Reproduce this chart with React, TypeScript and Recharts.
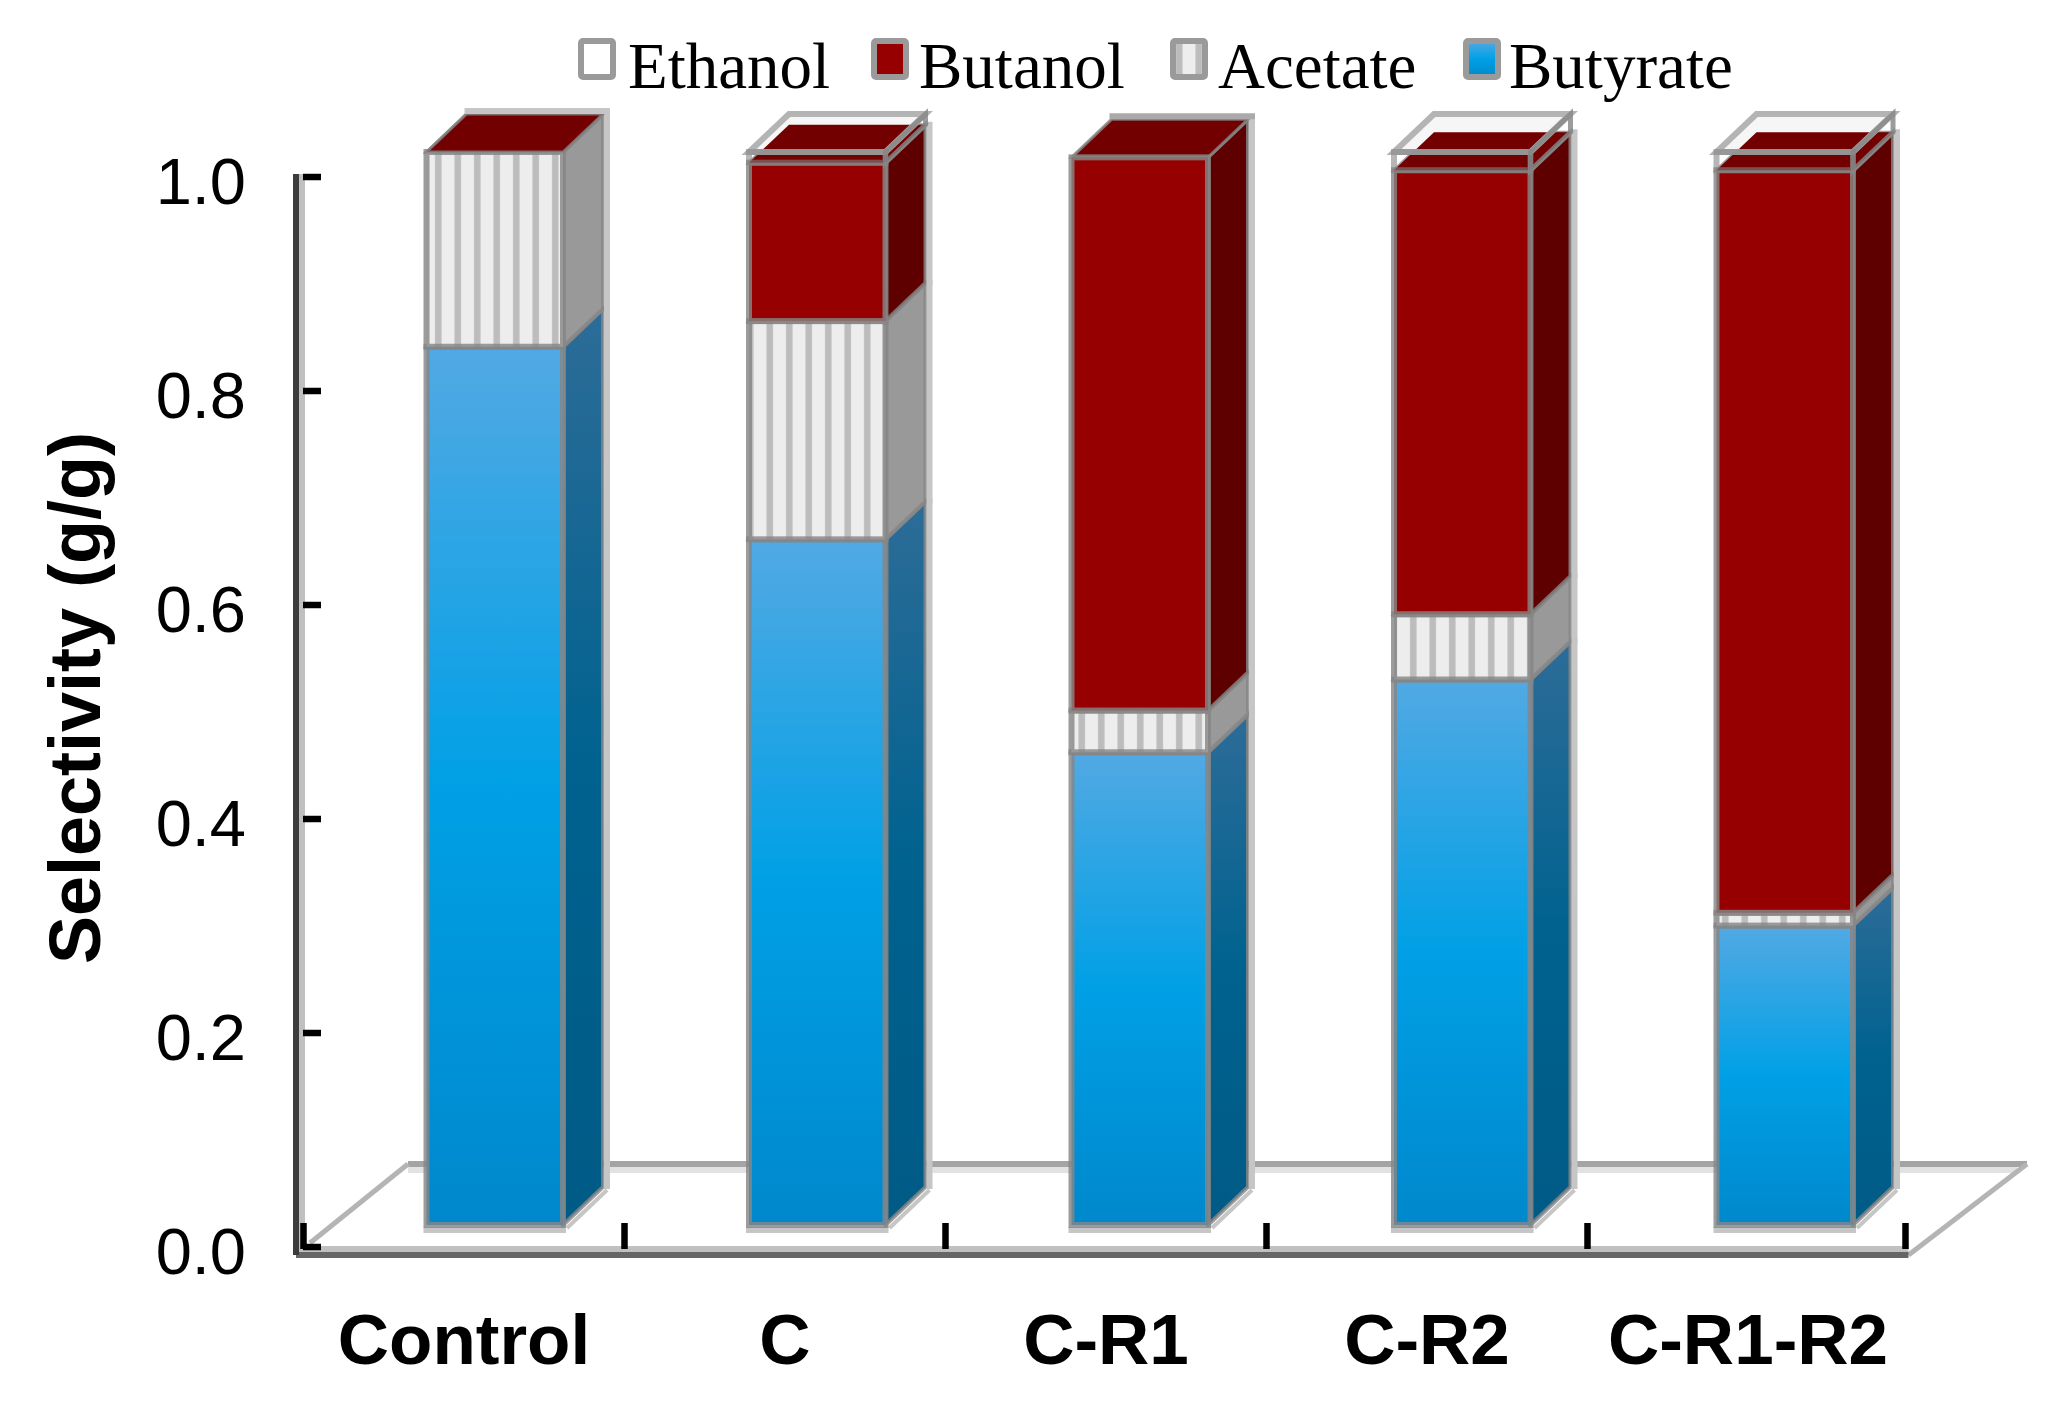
import { BarChart, Bar, XAxis, YAxis, Legend } from "recharts";

const categories = ["Control", "C", "C-R1", "C-R2", "C-R1-R2"];
const butyrate = [0.818, 0.638, 0.439, 0.507, 0.277];
const acetate = [0.182, 0.204, 0.039, 0.061, 0.012];
const butanol = [0, 0.148, 0.517, 0.415, 0.694];
const ethanol = [0, 0.01, 0, 0.017, 0.017];
const yTicks = [0, 0.2, 0.4, 0.6, 0.8, 1];
const legendOrder = ["Ethanol", "Butanol", "Acetate", "Butyrate"];

const data = categories.map((name, i) => ({
  name,
  butyrate: butyrate[i],
  acetate: acetate[i],
  butanol: butanol[i],
  ethanol: ethanol[i],
}));

const W = 2059;
const H = 1415;
const PLOT_LEFT = 296;
const PLOT_RIGHT = 1908.5;
const PLOT_TOP = 174;
const PLOT_BOTTOM = 1255;

// the 3d look: front faces sit up and right of the axis plane, depth runs further back
const FRONT_DX = 34;
const FRONT_SPREAD = 1.5;
const FRONT_DY = -25;
const BASE_EXTRA = 3;
const DEPTH_X = 40;
const DEPTH_Y = 38;
const EDGE = "rgba(134,134,134,0.82)";
const SHADOW = "#c6c6c6";

const skins: any = {
  butyrate: { front: "url(#butyrateFace)", side: "url(#butyrateSide)", top: "#2a6a96" },
  acetate: { front: "url(#acetateFace)", side: "#999999", top: "#b8b8b8" },
  butanol: { front: "#960000", side: "#5e0000", top: "#720000" },
};

function topFace(x: number, y: number, w: number) {
  return `${x},${y} ${x + DEPTH_X},${y - DEPTH_Y} ${x + w + DEPTH_X},${y - DEPTH_Y} ${x + w},${y}`;
}

function Box3D({ x, y, width, height, kind, index, payload }: any) {
  const fx = x + FRONT_DX + (index - 2) * FRONT_SPREAD;
  const fy = y + FRONT_DY;
  const h = kind === "butyrate" ? height + BASE_EXTRA : height;
  const backX = fx + width + DEPTH_X;
  const side = `${fx + width},${fy} ${backX},${fy - DEPTH_Y} ${backX},${fy + h - DEPTH_Y} ${fx + width},${fy + h}`;

  if (kind === "ethanol") {
    if (!height) return null;
    const topEdge = "rgba(176,176,176,0.95)";
    return (
      <g>
        <polygon points={topFace(fx, fy, width)} fill="#f6f6f6" />
        <polygon points={topFace(fx, fy + height, width)} fill={skins.butanol.top} />
        <polygon points={topFace(fx, fy, width)} fill="none" stroke={topEdge} strokeWidth={6} />
        <polygon points={side} fill="none" stroke={EDGE} strokeWidth={5} />
        <rect x={fx} y={fy} width={width} height={height} fill="none" stroke={"rgba(134,134,134,0.6)"} strokeWidth={6} />
      </g>
    );
  }

  const skin = skins[kind];
  const isTop = kind === "butanol" && !payload.ethanol;
  return (
    <g>
      <polygon points={side} fill={skin.side} stroke={EDGE} strokeWidth={4} />
      <line x1={backX + 4} y1={fy - DEPTH_Y - 3} x2={backX + 4} y2={fy + h - DEPTH_Y + 2} stroke={SHADOW} strokeWidth={6} />
      {kind === "butyrate" && (
        <g stroke={SHADOW}>
          <line x1={fx - 3} y1={fy + h + 5} x2={fx + width + 3} y2={fy + h + 5} strokeWidth={6} />
          <line x1={fx + width + 4} y1={fy + h + 3} x2={backX + 4} y2={fy + h - DEPTH_Y + 3} strokeWidth={4} />
        </g>
      )}
      <polygon points={topFace(fx, fy, width)} fill={skin.top} stroke={EDGE} strokeWidth={3} />
      {isTop && (
        <line x1={fx + DEPTH_X - 2} y1={fy - DEPTH_Y - 3} x2={backX + 7} y2={fy - DEPTH_Y - 3} stroke={height ? "#aaaaaa" : SHADOW} strokeWidth={6} />
      )}
      {h > 0 && <rect x={fx} y={fy} width={width} height={h} fill={skin.front} stroke={EDGE} strokeWidth={6} />}
    </g>
  );
}

function Floor() {
  const backY = 1164;
  const backLeft = 408;
  const backRight = 2027;
  return (
    <g>
      <line x1={PLOT_LEFT + 6} y1={PLOT_TOP} x2={PLOT_LEFT + 6} y2={PLOT_BOTTOM} stroke="#c0c0c0" strokeWidth={6} />
      <line x1={PLOT_LEFT} y1={PLOT_BOTTOM - 6} x2={PLOT_RIGHT} y2={PLOT_BOTTOM - 6} stroke="#c0c0c0" strokeWidth={6} />
      <line x1={backLeft} y1={backY + 6} x2={backRight - 10} y2={backY + 6} stroke="#e2e2e2" strokeWidth={6} />
      <line x1={backLeft} y1={backY} x2={backRight} y2={backY} stroke="#a4a4a4" strokeWidth={6} />
      <line x1={PLOT_LEFT + 14} y1={PLOT_BOTTOM - 12} x2={backLeft} y2={backY} stroke="#b4b4b4" strokeWidth={5} />
      <line x1={PLOT_RIGHT} y1={PLOT_BOTTOM} x2={backRight} y2={backY} stroke="#b4b4b4" strokeWidth={5} />
    </g>
  );
}

function YTick({ y, payload }: any) {
  return (
    <g>
      <text x={246} y={y + 27} textAnchor="end" fontFamily="Liberation Sans" fontSize={65} fill="#000">
        {payload.value.toFixed(1)}
      </text>
      <line x1={PLOT_LEFT + 7} y1={y} x2={PLOT_LEFT + 25} y2={y} stroke="#000" strokeWidth={6.5} />
    </g>
  );
}

function XTick({ x, payload, index }: any) {
  const band = (PLOT_RIGHT - PLOT_LEFT - 7.5) / categories.length;
  const tickTop = 1223;
  const tickBottom = 1249;
  return (
    <g>
      <text x={x} y={1364} textAnchor="middle" fontFamily="Liberation Sans" fontWeight="bold" fontSize={71} fill="#000">
        {payload.value}
      </text>
      <line x1={x - band / 2} y1={tickTop} x2={x - band / 2} y2={tickBottom} stroke="#000" strokeWidth={6.5} />
      {index === categories.length - 1 && (
        <line x1={x + band / 2 - 3} y1={tickTop} x2={x + band / 2 - 3} y2={tickBottom} stroke="#000" strokeWidth={6.5} />
      )}
    </g>
  );
}

function AxisTitle() {
  return (
    <text
      transform="translate(81,698) rotate(-90)"
      textAnchor="middle"
      dominantBaseline="middle"
      fontFamily="Liberation Sans"
      fontWeight="bold"
      fontSize={72}
      fill="#000"
    >
      Selectivity (g/g)
    </text>
  );
}

function LegendRow({ payload }: any) {
  const starts = [578, 871, 1170, 1463];
  const textLeft = [50, 48, 48, 46];
  return (
    <div style={{ position: "relative", height: 0, width: W }}>
      {(payload || []).map((item: any, i: number) => (
        <div key={item.value} style={{ position: "absolute", left: starts[i], top: 0, whiteSpace: "nowrap" }}>
          <svg width={38} height={42} style={{ position: "absolute", left: 0, top: 38 }}>
            <rect x={3} y={3} width={32} height={36} rx={2} fill={item.color} stroke="#9a9a9a" strokeWidth={6} />
          </svg>
          <span
            style={{
              position: "absolute",
              left: textLeft[i],
              top: 29,
              fontFamily: "Liberation Serif",
              fontSize: 65,
              lineHeight: "75px",
              color: "#000",
            }}
          >
            {item.value}
          </span>
        </div>
      ))}
    </div>
  );
}

export default function App() {
  return (
    <div style={{ position: "absolute", left: 0, top: 0, width: W, height: H, background: "#fff" }}>
      <BarChart
        width={W}
        height={H}
        data={data}
        margin={{ top: PLOT_TOP, right: W - PLOT_RIGHT, bottom: 0, left: 0 }}
        barSize={136.5}
      >
        <defs>
          <linearGradient id="butyrateFace" x1="0" y1="0" x2="0" y2="1">
            <stop offset="0" stopColor="#52a9e3" />
            <stop offset="0.5" stopColor="#00a0e6" />
            <stop offset="1" stopColor="#0088cc" />
          </linearGradient>
          <linearGradient id="butyrateSide" x1="0" y1="0" x2="0" y2="1">
            <stop offset="0" stopColor="#2d6c98" />
            <stop offset="0.5" stopColor="#00628f" />
            <stop offset="1" stopColor="#005a86" />
          </linearGradient>
          <pattern id="acetateFace" patternUnits="userSpaceOnUse" width={19.5} height={20}>
            <rect width={19.5} height={20} fill="#ededed" />
            <rect x={6} width={6.5} height={20} fill="#bcbcbc" />
          </pattern>
        </defs>
        <Floor />
        <XAxis
          dataKey="name"
          height={H - PLOT_BOTTOM}
          interval={0}
          padding={{ left: 7.5, right: 0 }}
          axisLine={{ stroke: "#666666", strokeWidth: 6 }}
          tickLine={false}
          tick={<XTick />}
        />
        <YAxis
          width={PLOT_LEFT}
          domain={[0, 1]}
          ticks={yTicks}
          padding={{ top: 3, bottom: 8 }}
          axisLine={{ stroke: "#3c3c3c", strokeWidth: 6 }}
          tickLine={false}
          tick={<YTick />}
          label={<AxisTitle />}
        />
        <Legend
          content={<LegendRow />}
          verticalAlign="top"
          itemSorter={(item: any) => legendOrder.indexOf(item.value)}
          wrapperStyle={{ top: 0, left: 0, height: 0 }}
        />
        <Bar dataKey="butyrate" name="Butyrate" stackId="a" fill="url(#butyrateFace)" isAnimationActive={false} shape={(p: any) => <Box3D {...p} kind="butyrate" />} />
        <Bar dataKey="acetate" name="Acetate" stackId="a" fill="url(#acetateFace)" isAnimationActive={false} shape={(p: any) => <Box3D {...p} kind="acetate" />} />
        <Bar dataKey="butanol" name="Butanol" stackId="a" fill="#960000" isAnimationActive={false} shape={(p: any) => <Box3D {...p} kind="butanol" />} />
        <Bar dataKey="ethanol" name="Ethanol" stackId="a" fill="#ffffff" isAnimationActive={false} shape={(p: any) => <Box3D {...p} kind="ethanol" />} />
      </BarChart>
    </div>
  );
}
